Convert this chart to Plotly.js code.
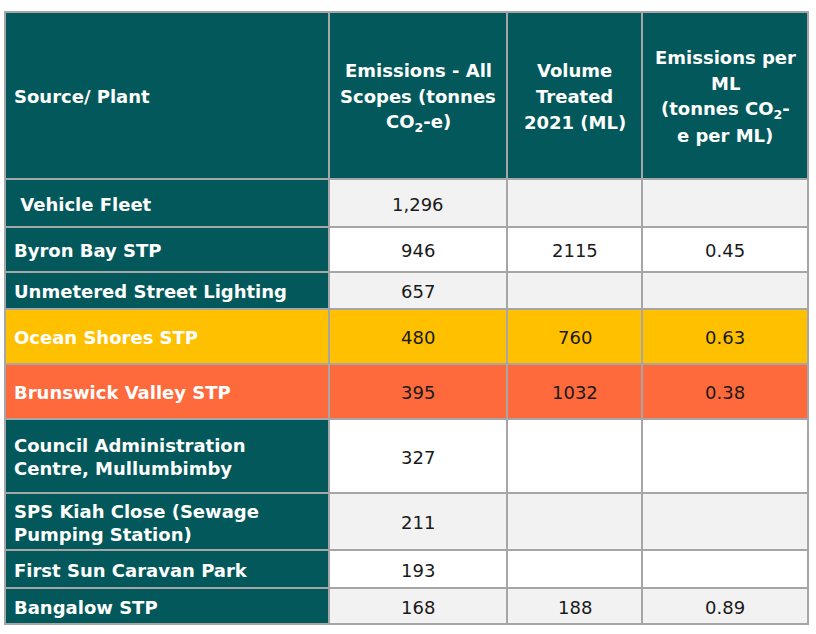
<!DOCTYPE html>
<html>
<head>
<meta charset="utf-8">
<script src="https://cdn.plot.ly/plotly-3.0.1.min.js"></script>
<style>
  body { margin: 0; background: #fff; }
  #chart { width: 816px; height: 634px; }
</style>
</head>
<body>
<div id="chart"></div>
<script>
// table content
const headers = ['Source/ Plant', 'Emissions - All<br>Scopes (tonnes<br>CO<sub>2</sub>-e)',
  'Volume<br>Treated<br>2021 (ML)', 'Emissions per<br>ML<br>(tonnes CO<sub>2</sub>-<br>e per ML)'];
const sources = [' Vehicle Fleet', 'Byron Bay STP', 'Unmetered Street Lighting', 'Ocean Shores STP',
  'Brunswick Valley STP', 'Council Administration<br>Centre, Mullumbimby',
  'SPS Kiah Close (Sewage<br>Pumping Station)', 'First Sun Caravan Park', 'Bangalow STP'];
const emissions = ['1,296', '946', '657', '480', '395', '327', '211', '193', '168'];
const volume = ['', '2115', '', '760', '1032', '', '', '', '188'];
const perML = ['', '0.45', '', '0.63', '0.38', '', '', '', '0.89'];

// layout of the grid (pixels)
const colEdges = [5, 329, 507, 642, 808];
const headTop = 12, headBottom = 179;
const rowBottoms = [227, 272, 309, 364, 419, 493, 550, 588, 624];
const headLineGap = 26;

const teal = '#02585a';
const rowFill = ['#f2f2f2', '#ffffff', '#f2f2f2', '#ffc000', '#ff6a3c', '#ffffff', '#f2f2f2', '#ffffff', '#f2f2f2'];
const labelFill = ['', '', '', '#ffc000', '#ff6a3c', '', '', '', ''];
const gridColor = '#a6a6a6';
const fontFam = '"DejaVu Sans", sans-serif';

const shapes = [];
const annotations = [];

function rect(x0, x1, y0, y1, fill) {
  shapes.push({type: 'rect', xref: 'x', yref: 'y', x0: x0, x1: x1, y0: y0, y1: y1,
    fillcolor: fill, line: {color: gridColor, width: 2}, layer: 'below'});
}

// header: one annotation per line so the line spacing matches
headers.forEach((h, c) => {
  rect(colEdges[c], colEdges[c + 1], headTop, headBottom, teal);
  const left = c === 0;
  const lines = h.split('<br>');
  const mid = (headTop + headBottom) / 2 + 1;
  lines.forEach((ln, i) => {
    annotations.push({
      x: left ? colEdges[c] + 7 : (colEdges[c] + colEdges[c + 1]) / 2,
      y: mid + (i - (lines.length - 1) / 2) * headLineGap,
      xanchor: left ? 'left' : 'center', yanchor: 'middle',
      text: '<b>' + ln + '</b>', showarrow: false,
      font: {family: fontFam, size: 18, color: '#ffffff'}
    });
  });
});

// body
const columns = [sources, emissions, volume, perML];
sources.forEach((s, r) => {
  const y0 = r === 0 ? headBottom : rowBottoms[r - 1];
  const y1 = rowBottoms[r];
  columns.forEach((col, c) => {
    const fill = c === 0 ? (labelFill[r] || teal) : rowFill[r];
    rect(colEdges[c], colEdges[c + 1], y0, y1, fill);
    if (!col[r]) return;
    const left = c === 0;
    annotations.push({
      x: left ? colEdges[c] + 7 : (colEdges[c] + colEdges[c + 1]) / 2,
      y: (y0 + y1) / 2 + 1,
      xanchor: left ? 'left' : 'center', yanchor: 'middle', align: left ? 'left' : 'center',
      text: left ? '<b>' + col[r] + '</b>' : col[r], showarrow: false,
      font: {family: fontFam, size: 18, color: left ? '#ffffff' : '#1a1a1a'}
    });
  });
});

const layout = {
  width: 816, height: 634,
  margin: {t: 0, b: 0, l: 0, r: 0},
  paper_bgcolor: '#ffffff', plot_bgcolor: '#ffffff',
  xaxis: {range: [0, 816], visible: false, fixedrange: true},
  yaxis: {range: [634, 0], visible: false, fixedrange: true},
  showlegend: false,
  shapes: shapes,
  annotations: annotations
};

Plotly.newPlot('chart', [{x: [], y: [], type: 'scatter'}], layout, {displayModeBar: false, staticPlot: true});
</script>
</body>
</html>
